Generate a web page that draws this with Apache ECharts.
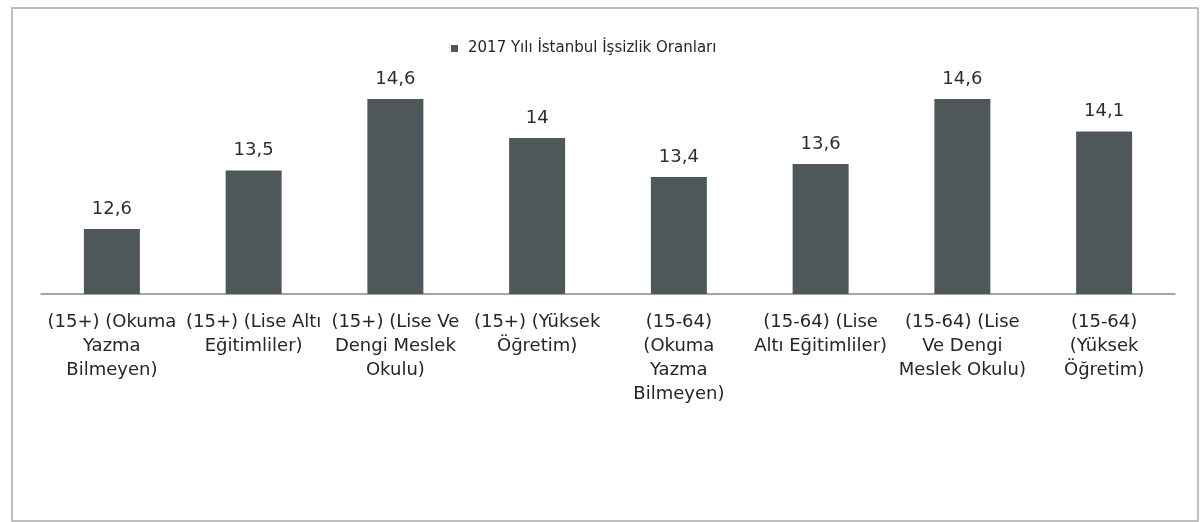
<!DOCTYPE html>
<html>
<head>
<meta charset="utf-8">
<script src="https://cdn.jsdelivr.net/npm/echarts@6/dist/echarts.min.js"></script>
<style>
html,body{margin:0;padding:0;background:#fff;}
#c{width:1204px;height:522px;}
</style>
</head>
<body>
<div id="c"></div>
<script>
var seriesName = '2017 Yılı İstanbul İşsizlik Oranları';
var categories = [
  '(15+) (Okuma\nYazma\nBilmeyen)',
  '(15+) (Lise Altı\nEğitimliler)',
  '(15+) (Lise Ve\nDengi Meslek\nOkulu)',
  '(15+) (Yüksek\nÖğretim)',
  '(15-64)\n(Okuma\nYazma\nBilmeyen)',
  '(15-64) (Lise\nAltı Eğitimliler)',
  '(15-64) (Lise\nVe Dengi\nMeslek Okulu)',
  '(15-64)\n(Yüksek\nÖğretim)'
];
var values = [12.6, 13.5, 14.6, 14, 13.4, 13.6, 14.6, 14.1];

var FONT = 'DejaVu Sans';
var chart = echarts.init(document.getElementById('c'), null, {renderer: 'canvas'});
chart.setOption({
  animation: false,
  backgroundColor: '#fff',
  graphic: [{
    type: 'rect',
    shape: {x: 12, y: 8, width: 1186, height: 513},
    style: {fill: 'none', stroke: '#aaaaaa', lineWidth: 1.5},
    silent: true
  }],
  legend: {
    left: 446,
    top: 36,
    icon: 'rect',
    itemWidth: 7,
    itemHeight: 7,
    itemGap: 10,
    textStyle: {fontFamily: FONT, fontSize: 15, color: '#262626', padding: [0, 0, 0, 5]},
    data: [seriesName]
  },
  grid: {left: 41, right: 29, top: 73, bottom: 228, containLabel: false},
  xAxis: {
    type: 'category',
    data: categories,
    axisLine: {show: true, lineStyle: {color: '#888', width: 1.5}},
    axisTick: {show: false},
    axisLabel: {
      interval: 0,
      margin: 16,
      fontFamily: FONT,
      fontSize: 18,
      lineHeight: 24,
      color: '#262626',
      align: 'center'
    }
  },
  yAxis: {
    type: 'value',
    min: 11.6,
    max: 15,
    show: false,
    splitLine: {show: false}
  },
  series: [{
    name: seriesName,
    type: 'bar',
    data: values,
    barWidth: 56,
    itemStyle: {color: '#4e585b'},
    label: {
      show: true,
      position: 'top',
      distance: 11,
      fontFamily: FONT,
      fontSize: 18,
      color: '#2e2e2e',
      formatter: function (p) { return String(p.value).replace('.', ','); }
    }
  }]
});
</script>
</body>
</html>
